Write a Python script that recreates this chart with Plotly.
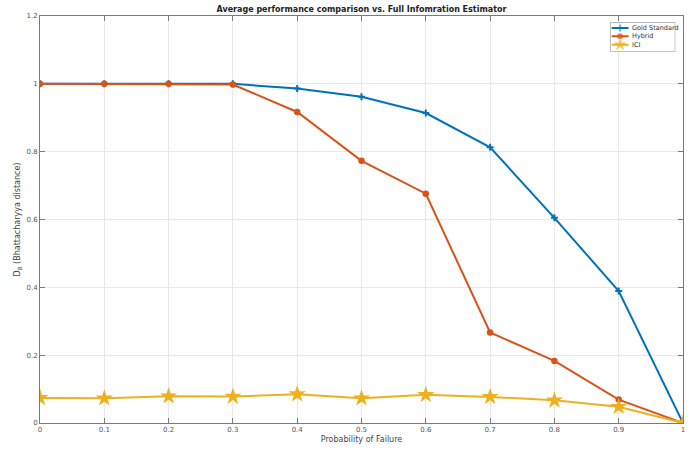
import plotly.graph_objects as go

# Failure probabilities on the x axis
p_fail = [0, 0.1, 0.2, 0.3, 0.4, 0.5, 0.6, 0.7, 0.8, 0.9, 1.0]

# Bhattacharyya distance for each estimator
gold_standard = [1.0, 1.0, 1.0, 1.0, 0.986, 0.962, 0.914, 0.813, 0.605, 0.389, 0.0]
hybrid = [1.0, 1.0, 1.0, 0.998, 0.917, 0.773, 0.676, 0.267, 0.183, 0.069, 0.0]
ici = [0.074, 0.073, 0.079, 0.078, 0.085, 0.073, 0.083, 0.077, 0.067, 0.048, 0.0]

series_names = ["Gold Standard", "Hybrid", "ICI"]

x_ticks = [0, 0.1, 0.2, 0.3, 0.4, 0.5, 0.6, 0.7, 0.8, 0.9, 1]
x_tick_text = ["0", "0.1", "0.2", "0.3", "0.4", "0.5", "0.6", "0.7", "0.8", "0.9", "1"]
y_ticks = [0, 0.2, 0.4, 0.6, 0.8, 1.0, 1.2]
y_tick_text = ["0", "0.2", "0.4", "0.6", "0.8", "1", "1.2"]

colors = ["#0072BD", "#D95319", "#EDB120"]
symbols = ["cross-thin", "circle", "star"]
plot_sizes = [5, 6.5, 13]
legend_sizes = [5, 6, 10]

fig = go.Figure()
for name, values, color, sym, size in zip(series_names, [gold_standard, hybrid, ici],
                                          colors, symbols, plot_sizes):
    fig.add_trace(go.Scatter(
        x=p_fail, y=values, name=name, mode="lines+markers", showlegend=False,
        line=dict(color=color, width=2),
        marker=dict(color=color, symbol=sym, size=size,
                    line=dict(width=2 if sym == "cross-thin" else 0, color=color)),
    ))

# Compact boxed legend drawn on its own hidden overlay axes (top-right corner)
row_y = [0.80, 0.52, 0.24]
for name, color, sym, size, ry in zip(series_names, colors, symbols, legend_sizes, row_y):
    fig.add_trace(go.Scatter(
        x=[0.02, 0.15, 0.28], y=[ry, ry, ry], xaxis="x2", yaxis="y2",
        mode="lines+markers", showlegend=False, hoverinfo="skip",
        line=dict(color=color, width=2),
        marker=dict(color=color, symbol=sym, size=[0, size, 0],
                    line=dict(width=1.5 if sym == "cross-thin" else 0, color=color)),
    ))
    fig.add_annotation(x=0.31, y=ry, xref="x2", yref="y2", text=name, showarrow=False,
                       xanchor="left", yanchor="middle",
                       font=dict(size=6.5, color="#333333"))

fig.add_shape(type="rect", xref="x2", yref="y2", x0=0, x1=1, y0=0, y1=1,
              line=dict(color="#888888", width=1), fillcolor="white", layer="below")

axis_color = "#7a7a7a"
axis_common = dict(
    showline=True, linecolor=axis_color, linewidth=1, mirror="ticks",
    ticks="inside", ticklen=5, tickcolor=axis_color, tickwidth=1,
    showgrid=True, gridcolor="#e8e8e8", gridwidth=1, zeroline=False,
    tickfont=dict(size=7, color="#555555"),
)

fig.update_layout(
    width=691, height=450,
    margin=dict(l=40, r=6, t=16, b=27),
    paper_bgcolor="white", plot_bgcolor="white",
    font=dict(family="DejaVu Sans", color="#333333"),
    title=dict(text="<b>Average performance comparison vs. Full Infomration Estimator</b>",
               x=0.5, xanchor="center", xref="paper", y=0.979, yanchor="middle",
               yref="container", font=dict(size=8, color="#222222")),
    xaxis=dict(range=[0, 1], tickvals=x_ticks, ticktext=x_tick_text,
               title=dict(text="Probability of Failure", standoff=2,
                          font=dict(size=8, color="#444444")),
               **axis_common),
    yaxis=dict(range=[0, 1.2], tickvals=y_ticks, ticktext=y_tick_text,
               title=dict(text="D<sub>B</sub> (Bhattacharyya distance)", standoff=4,
                          font=dict(size=8, color="#444444")),
               **axis_common),
    xaxis2=dict(domain=[0.887, 0.988], range=[0, 1], anchor="y2", visible=False,
                fixedrange=True),
    yaxis2=dict(domain=[0.912, 0.985], range=[0, 1], anchor="x2", visible=False,
                fixedrange=True),
    showlegend=False,
)

fig.write_html("out.html")
